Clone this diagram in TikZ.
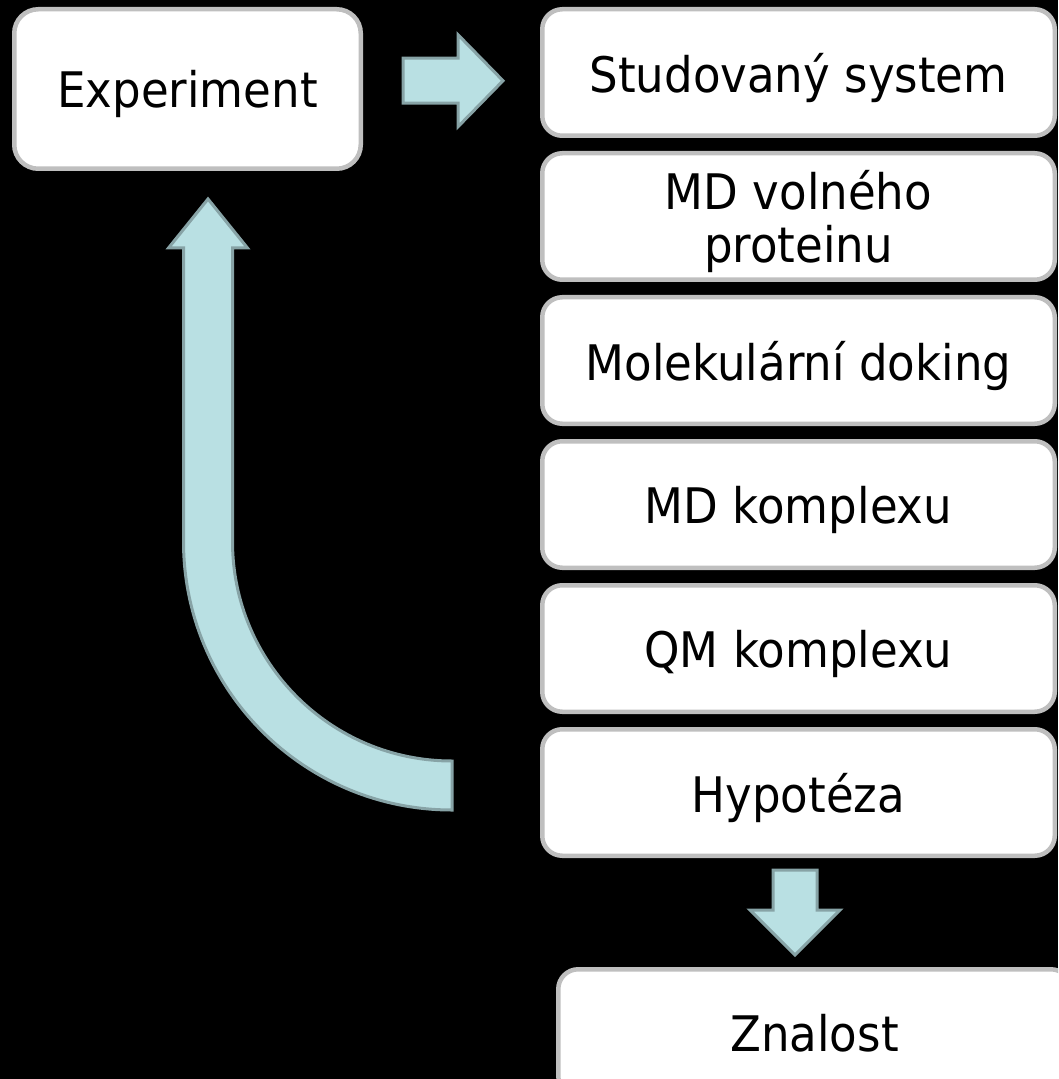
\documentclass[tikz,border=0pt]{standalone}
\usepackage{fontspec}
\setmainfont[FakeStretch=0.92]{DejaVu Sans}
\usetikzlibrary{positioning,calc}
\definecolor{FlowLine}{HTML}{BFBFBF}
\definecolor{FlowArrow}{HTML}{B9E0E3}
\definecolor{FlowArrowLine}{HTML}{87A3A6}

\begin{document}
\begin{tikzpicture}[x=0.5pt,y=-0.5pt,node distance=6.5pt]
    \tikzset{c/.style={rounded corners=10pt,draw=FlowLine,fill=white,line width=2.25pt,minimum width=256.25pt,minimum height=63.25pt,align=center,text depth=0pt,font=\fontsize{24.5}{26.5}\selectfont},
      ba/.style={fill=FlowArrow,draw=FlowArrowLine,line width=1.5pt,line join=miter}}
    \useasboundingbox (0,0) rectangle (1058,1079);
    \fill[black] (0,0) rectangle (1058,1079);
    \clip (0,0) rectangle (1058,1079);
    % boxes
    \node[c,minimum width=173.25pt,minimum height=79.75pt,rounded corners=12pt] (exp) at (187.5,89) {Experiment};
    \node[c] (sys) at (798.5,72.5) {Studovaný system};
    \node[c,below=of sys] (mdp) {MD volného\\proteinu};
    \node[c,below=of mdp] (dok) {Molekulární doking};
    \node[c,below=of dok] (mdk) {MD komplexu};
    \node[c,below=of mdk] (qmk) {QM komplexu};
    \node[c,below=of qmk] (hyp) {Hypotéza};
    \node[c] (zn) at (814.5,1032.5) {Znalost};
    % block arrows
    \coordinate (ra) at ($(exp.east)!0.5!(sys.west)+(1.5,0)$);
    \draw[ba] ($(ra)+(-50,-22.5)$) -- ++(55,0) -- ++(0,-23.5) -- ++(45,46) -- ++(-45,46) -- ++(0,-23.5) -- ++(-55,0) -- cycle;
    \coordinate (da) at ($(hyp.south)!0.5!(zn.north)+(-11.5,0)$);
    \draw[ba] ($(da)+(-22,-42.5)$) -- ++(44,0) -- ++(0,40) -- ++(23,0) -- ++(-45,45) -- ++(-45,-45) -- ++(23,0) -- cycle;
    \coordinate (fbTip) at ($(exp.south)+(20.5,28)$);
    \coordinate (fbEnd) at ($(hyp.west)+(-88,-6.5)$);
    \draw[ba] (fbTip) -- ++(39.5,49) -- ++(-15,0) -- ($(fbEnd)+(-219.5,-244.5)$) arc[start angle=180,end angle=90,radius=219.5] -- ++(0,49) arc[start angle=90,end angle=180,radius=268.5] -- ($(fbTip)+(-24.5,49)$) -- ++(-15,0) -- cycle;
  \end{tikzpicture}
\end{document}
